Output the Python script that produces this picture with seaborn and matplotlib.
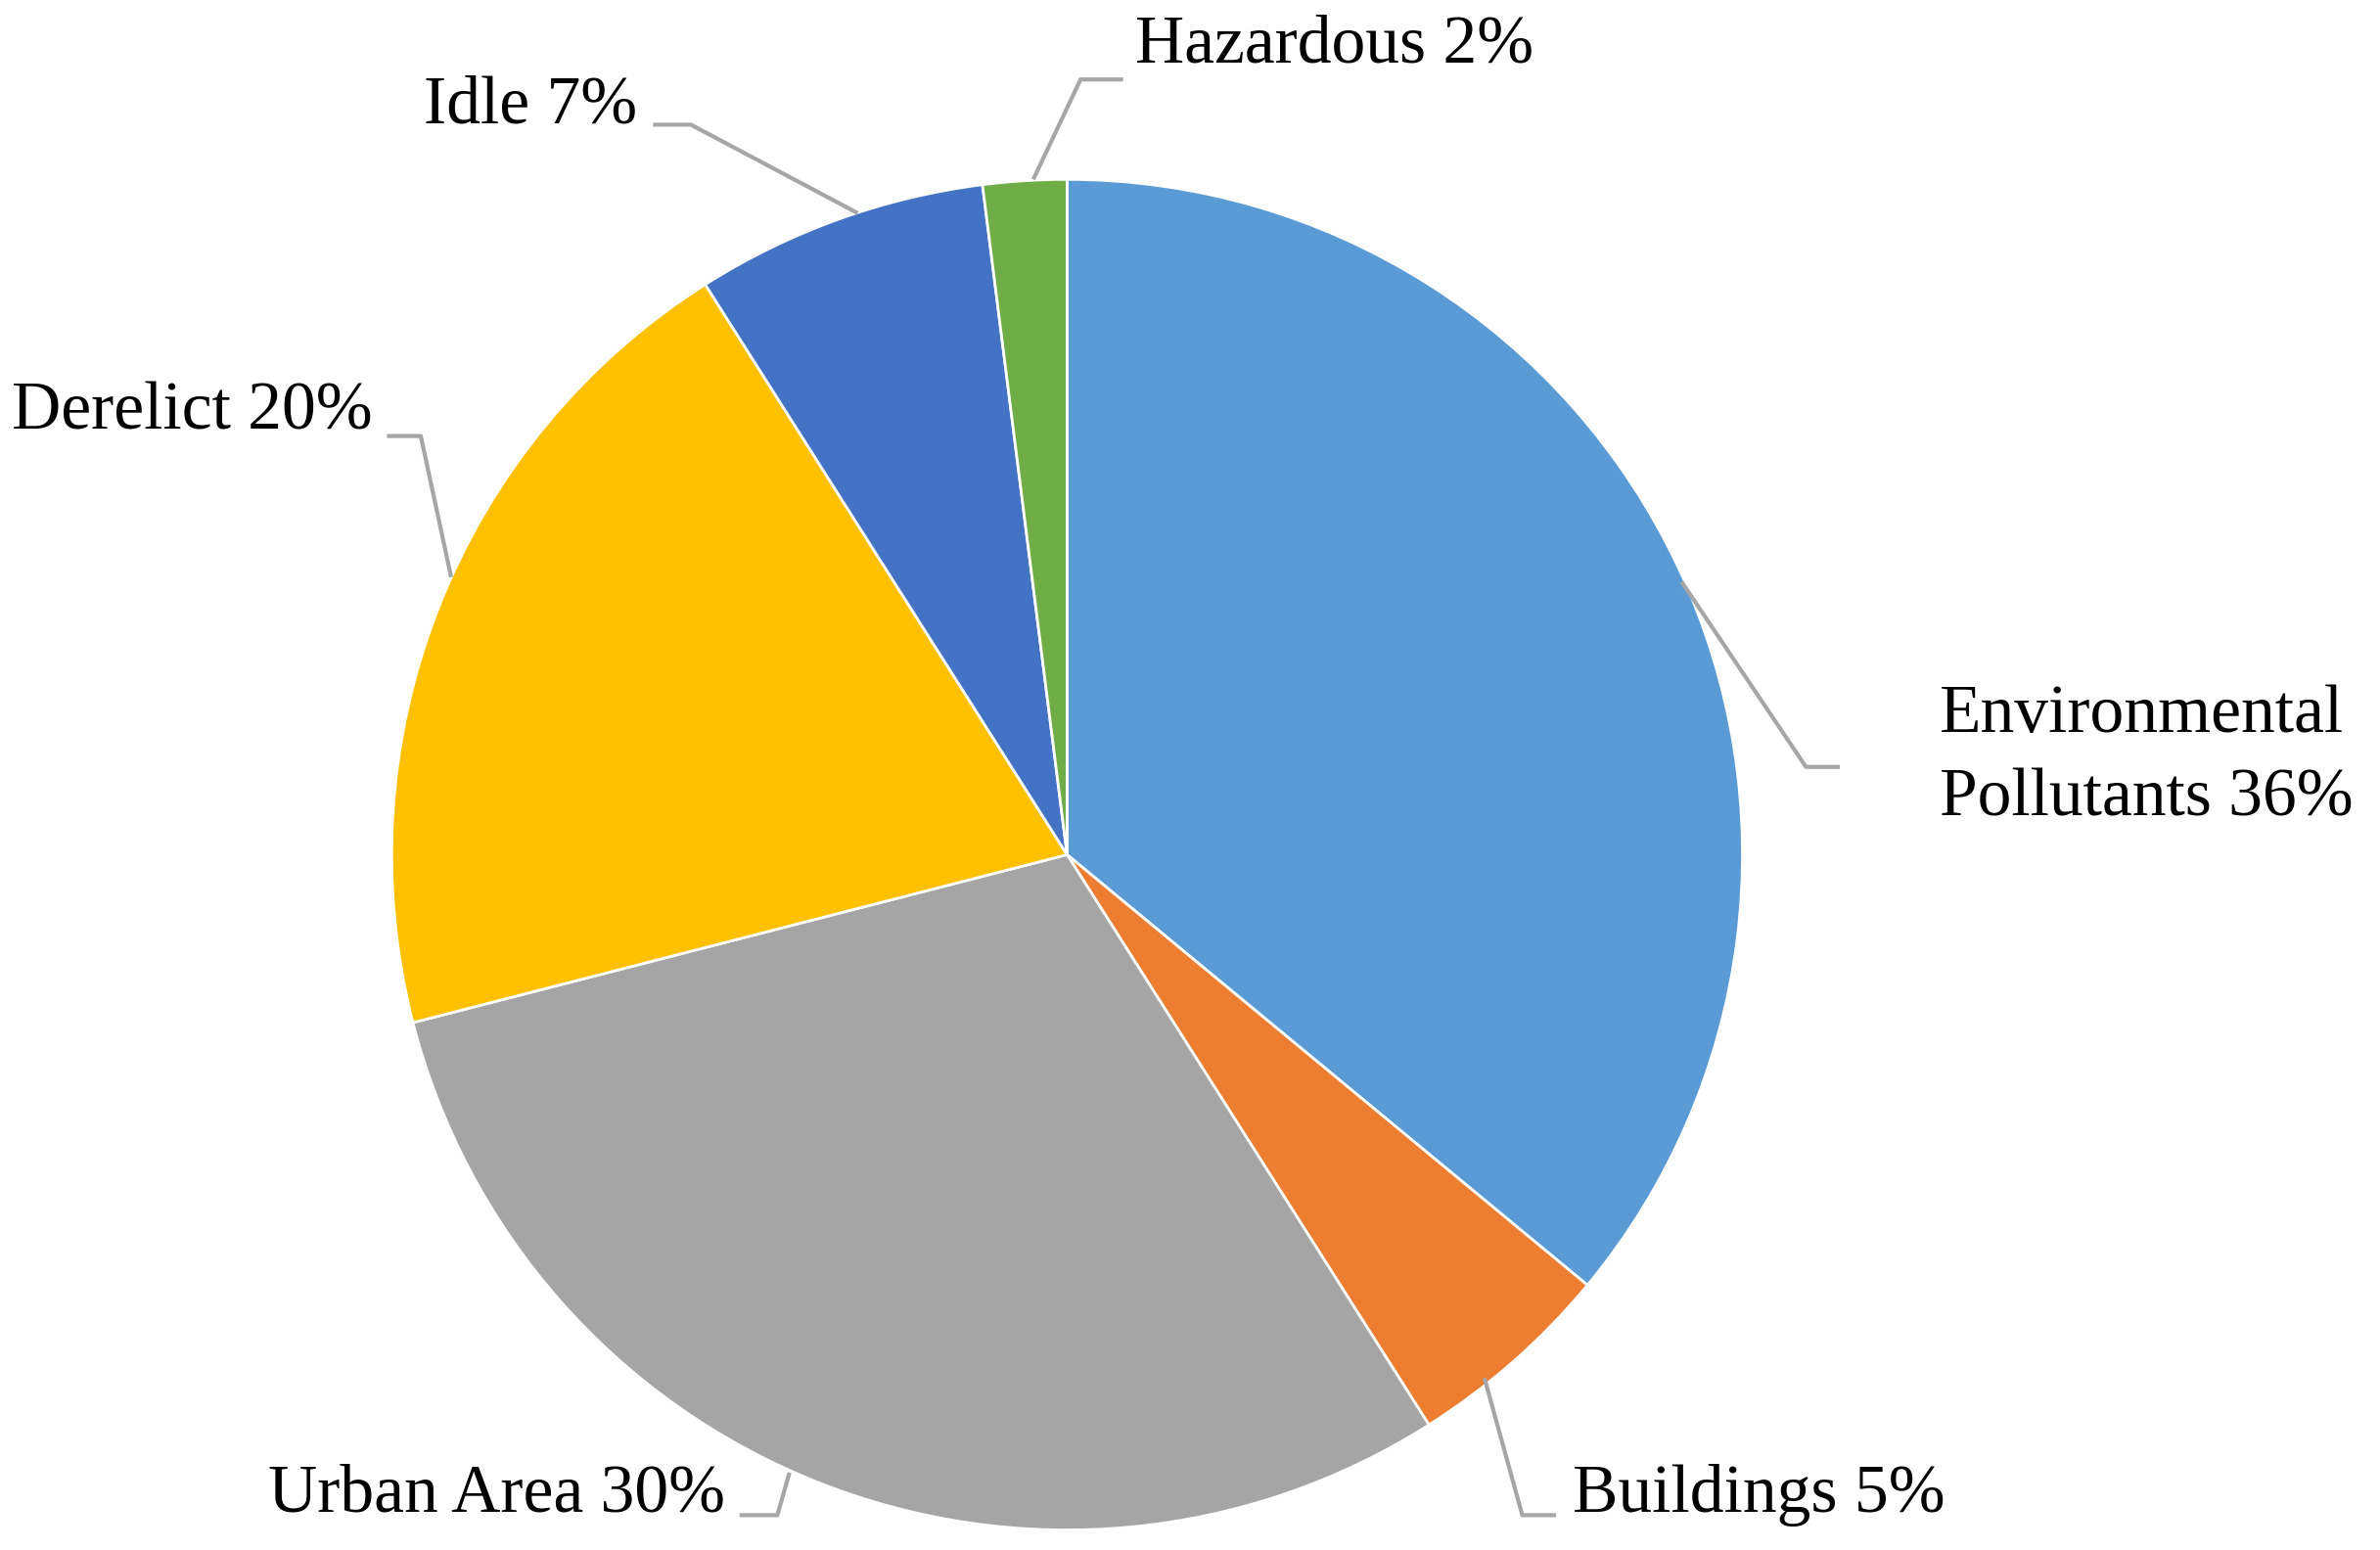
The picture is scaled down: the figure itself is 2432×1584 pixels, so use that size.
import matplotlib
matplotlib.use("Agg")
import matplotlib.pyplot as plt
import seaborn as sns

labels = ["Environmental\nPollutants 36%", "Buildings 5%", "Urban Area 30%", "Derelict 20%", "Idle 7%", "Hazardous 2%"]
values = [36, 5, 30, 20, 7, 2]
colors = ["#5B9BD5", "#ED7D31", "#A5A5A5", "#FFC000", "#4472C4", "#70AD47"]

sns.set_theme(style="white")
plt.rcParams['font.family'] = ['Liberation Serif', 'DejaVu Serif']

fig = plt.figure(figsize=(12.16, 7.92), dpi=200)
ax = fig.add_axes([0, 0, 1, 1])
ax.pie(values, colors=colors, startangle=90, counterclock=False,
       wedgeprops=dict(edgecolor="white", linewidth=1.0), radius=1.0)
ax.set_xlim(-1.58, 1.944)
ax.set_ylim(-1.029, 1.265)
ax.set_aspect("equal")
ax.axis("off")

# label text positions and leader paths (layout)
text_pos = [(1.292, 0.144, "left"), (0.748, -0.948, "left"), (-0.506, -0.948, "right"),
            (-1.029, 0.654, "right"), (-0.636, 1.108, "right"), (0.101, 1.198, "left")]
leaders = [
    [(0.91, 0.404), (1.094, 0.130), (1.144, 0.130)],
    [(0.618, -0.775), (0.674, -0.978), (0.724, -0.978)],
    [(-0.411, -0.915), (-0.429, -0.978), (-0.485, -0.978)],
    [(-0.912, 0.411), (-0.957, 0.62), (-1.007, 0.62)],
    [(-0.31, 0.95), (-0.557, 1.081), (-0.613, 1.081)],
    [(-0.05, 1.0), (0.02, 1.148), (0.083, 1.148)],
]
for lab, (x, y, ha), path in zip(labels, text_pos, leaders):
    xs, ys = zip(*path)
    ax.plot(xs, ys, color="#A6A6A6", linewidth=1.5, solid_capstyle="butt")
    ax.text(x, y, lab, ha=ha, va="center", fontsize=25, color="black", linespacing=1.45)

fig.savefig("out.png", dpi=200)
